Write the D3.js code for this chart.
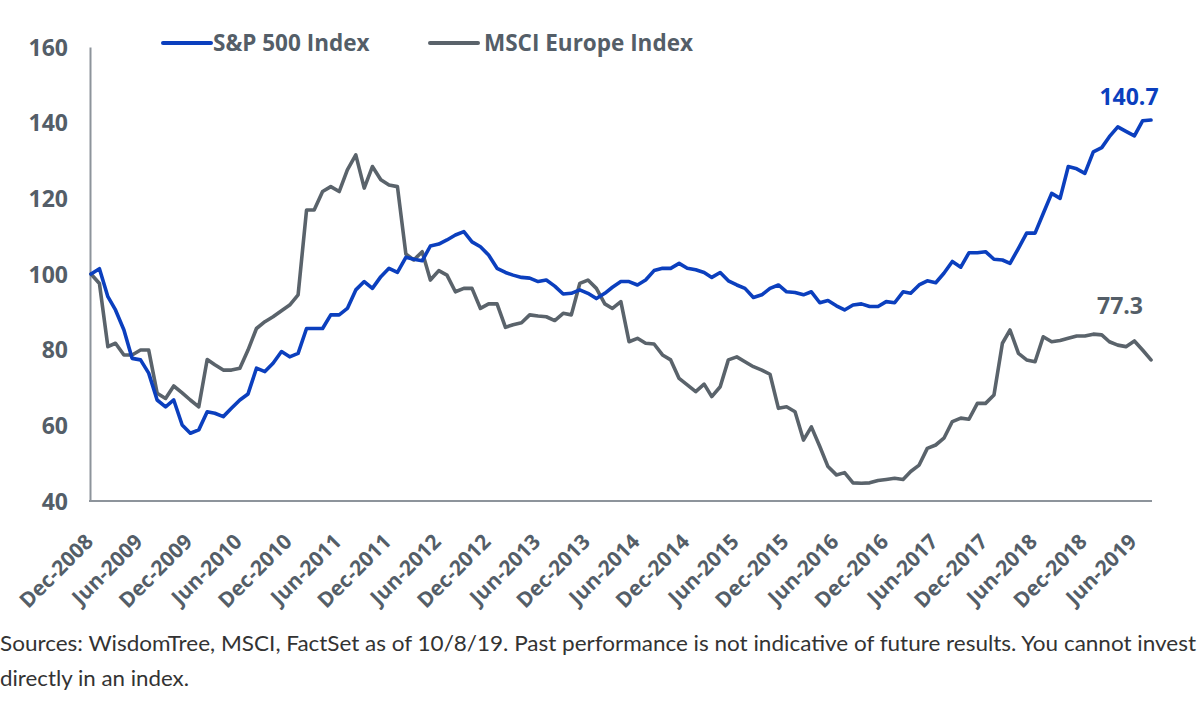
<!DOCTYPE html>
<html><head><meta charset="utf-8">
<script src="https://cdn.jsdelivr.net/npm/d3@7"></script>
<style>
html,body{margin:0;padding:0;background:#fff;}
svg{display:block;}
</style></head>
<body>
<svg id="chart" width="1200" height="704"></svg>
<script>
const seriesNames = ["S&P 500 Index", "MSCI Europe Index"];
const startMonth = new Date(2008, 11, 1);
const spx = [100,101.4,94,90.5,85.2,77.7,77.3,73.8,66.7,64.9,66.7,60.1,57.9,58.8,63.6,63.2,62.3,64.5,66.7,68.3,
75.1,74.2,76.4,79.5,78.1,79,85.6,85.6,85.6,89.2,89.2,90.9,95.8,98,96.2,99.3,101.5,100.4,104.4,103.9,
103.5,107.4,107.9,109,110.3,111.2,108.5,107.2,105,101.5,100.4,99.7,99.1,98.9,98,98.4,96.8,94.7,94.9,95.8,
94.9,93.5,94.9,96.5,98,98,97.1,98.4,100.9,101.5,101.5,102.8,101.5,101.1,100.4,99.1,100.4,98.2,97.1,96.2,
93.8,94.5,96.2,97.1,95.3,95.1,94.5,95.3,92.4,93,91.6,90.5,91.8,92.1,91.4,91.4,92.7,92.4,95.3,94.9,
97.1,98.2,97.7,100.2,103.3,101.8,105.6,105.6,105.9,103.9,103.7,102.8,106.8,110.8,110.8,116,121.3,120,128.4,127.8,
126.6,132.3,133.4,136.3,138.9,137.7,136.5,140.5,140.7];
const msci = [100,97.5,80.8,81.7,78.6,78.6,79.9,79.9,68.5,67.1,70.4,68.6,66.7,64.9,77.4,76,74.6,74.6,75.1,79.9,
85.6,87.4,88.7,90.3,91.8,94.5,116.9,116.9,121.8,123.1,121.8,127.5,131.5,122.7,128.4,124.9,123.5,123.1,105.3,103.7,
105.9,98.4,100.9,99.7,95.3,96.2,96.2,90.9,92.1,92.1,85.9,86.6,87.1,89.2,88.9,88.7,87.7,89.6,89.2,97.5,
98.4,96.2,92.1,90.9,92.7,82.1,83,81.7,81.5,78.6,77.3,72.4,70.7,68.9,70.9,67.6,70.2,77.3,78.1,76.8,
75.5,74.6,73.5,64.5,64.9,63.6,56.1,59.6,54.4,49.1,46.9,47.5,44.8,44.7,44.8,45.4,45.7,46,45.7,47.8,
49.5,53.9,54.8,56.6,61,61.9,61.6,65.8,65.8,68,81.7,85.2,79,77.3,76.8,83.4,82.1,82.4,83,83.6,
83.6,84.1,83.9,82.1,81.2,80.8,82.3,79.9,77.3];
const yTicks = [40,60,80,100,120,140,160];
const xTickLabels = ["Dec-2008","Jun-2009","Dec-2009","Jun-2010","Dec-2010","Jun-2011","Dec-2011","Jun-2012",
"Dec-2012","Jun-2013","Dec-2013","Jun-2014","Dec-2014","Jun-2015","Dec-2015","Jun-2016","Dec-2016","Jun-2017",
"Dec-2017","Jun-2018","Dec-2018","Jun-2019"];
const endLabels = ["140.7","77.3"];
const footnote = ["Sources: WisdomTree, MSCI, FactSet as of 10/8/19. Past performance is not indicative of future results. You cannot invest",
"directly in an index."];

const colors = ["#0b3fbe", "#5a636b"];
const textColor = "#545e68";
const axisColor = "#8d949b";
const boldFont = "'Open Sans', sans-serif";

const months = d3.timeMonth.range(startMonth, d3.timeMonth.offset(startMonth, spx.length));
const svg = d3.select("#chart");
const mLeft = 91, mRight = 1151, mTop = 47, mBottom = 501;

const x = d3.scaleTime().domain([months[0], months[months.length-1]]).range([mLeft, mRight]);
const y = d3.scaleLinear().domain([40,160]).range([mBottom, mTop]);

// y axis
const yAxis = d3.axisLeft(y).tickValues(yTicks).tickSize(0).tickPadding(22);
const gy = svg.append("g").attr("transform", `translate(${mLeft-1},0)`).call(yAxis);
gy.select(".domain").attr("stroke", axisColor).attr("stroke-width", 2);
gy.selectAll("text").attr("fill", textColor).attr("font-family", boldFont)
  .attr("font-weight", 700).attr("font-size", 23).attr("dy", "0.36em");

// x axis
const tickDates = xTickLabels.map((d,i)=>months[i*6]);
const xAxis = d3.axisBottom(x).tickValues(tickDates).tickSize(0).tickPadding(0);
const gx = svg.append("g").attr("transform", `translate(0,${mBottom})`).call(xAxis);
gx.select(".domain").attr("stroke", axisColor).attr("stroke-width", 2).attr("d", `M${mLeft-2},0H${mRight+1}`);
gx.selectAll("text")
  .text((d,i)=>xTickLabels[i])
  .attr("fill", textColor).attr("font-family", boldFont)
  .attr("font-weight", 700).attr("font-size", 21)
  .attr("text-anchor", "end")
  .attr("y", 0).attr("dy", 0)
  .attr("transform", "translate(3,42) rotate(-45)");

// lines
const line = d3.line().x((d,i)=>x(months[i])).y(d=>y(d)).curve(d3.curveLinear);
[[msci, colors[1]], [spx, colors[0]]].forEach(([s, c]) => {
  svg.append("path").datum(s).attr("d", line).attr("fill","none")
    .attr("stroke", c).attr("stroke-width", 3.6).attr("stroke-linejoin","round").attr("stroke-linecap","round");
});

// end labels
const lastI = spx.length - 1;
svg.append("text").attr("x", x(months[lastI]) - 22).attr("y", y(spx[lastI]) - 15)
  .attr("text-anchor","middle").attr("fill", colors[0]).attr("font-family", boldFont)
  .attr("font-weight",700).attr("font-size",23).text(endLabels[0]);
svg.append("text").attr("x", x(months[lastI]) - 31).attr("y", y(msci[lastI]) - 46)
  .attr("text-anchor","middle").attr("fill", textColor).attr("font-family", boldFont)
  .attr("font-weight",700).attr("font-size",23).text(endLabels[1]);

// legend
const legLineX = [163, 430];
const legTextX = [213, 484];
seriesNames.forEach((n,i)=>{
  svg.append("line").attr("x1",legLineX[i]).attr("x2",legLineX[i]+48).attr("y1",43).attr("y2",43)
    .attr("stroke", colors[i]).attr("stroke-width",4).attr("stroke-linecap","round");
  svg.append("text").attr("x",legTextX[i]).attr("y",43).attr("dy","0.36em").attr("fill", textColor)
    .attr("font-family", boldFont).attr("font-weight",700).attr("font-size",22.5).text(n);
});

// footnote
const noteFont = "Lato, 'Noto Sans', sans-serif";
svg.append("text").attr("x",0).attr("y",651).attr("fill","#333")
  .attr("font-family", noteFont).attr("font-size",22)
  .attr("textLength",1196).attr("lengthAdjust","spacingAndGlyphs").text(footnote[0]);
svg.append("text").attr("x",0).attr("y",686).attr("fill","#333")
  .attr("font-family", noteFont).attr("font-size",22)
  .attr("textLength",189).attr("lengthAdjust","spacingAndGlyphs").text(footnote[1]);
</script>
</body></html>
